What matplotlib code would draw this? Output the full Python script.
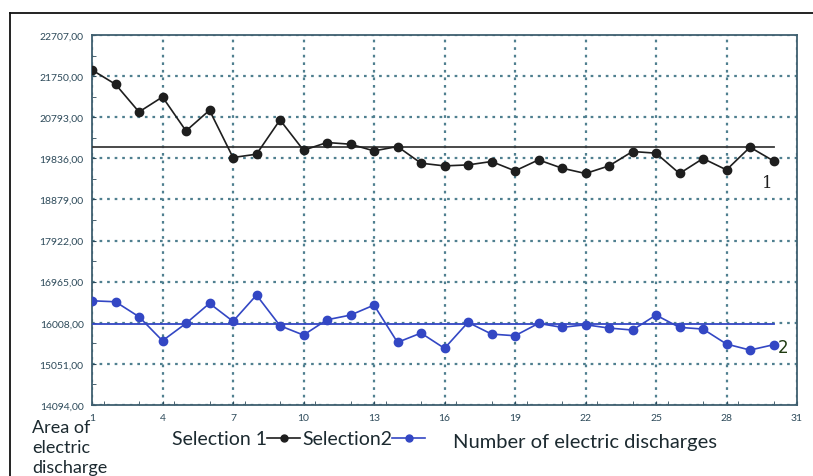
import matplotlib
matplotlib.use("Agg")
import matplotlib.pyplot as plt
from matplotlib.ticker import FixedLocator, MultipleLocator
from matplotlib.lines import Line2D

plt.rcParams['font.family'] = ['Lato', 'DejaVu Sans']

# ---- data ----
x_vals = list(range(1, 31))
selection1 = [21893, 21560, 20916, 21265, 20474, 20956, 19855, 19932, 20730, 20025,
              20204, 20165, 20009, 20111, 19723, 19660, 19683, 19762, 19544, 19800,
              19607, 19483, 19660, 19995, 19956, 19483, 19832, 19567, 20095, 19776]
selection2 = [16520, 16497, 16148, 15590, 15994, 16460, 16041, 16653, 15939, 15722,
              16078, 16187, 16420, 15552, 15769, 15413, 16018, 15745, 15706, 15994,
              15901, 15962, 15885, 15839, 16187, 15901, 15862, 15513, 15373, 15497]
mean1 = 20102
mean2 = 15980
y_ticks = [14094, 15051, 16008, 16965, 17922, 18879, 19836, 20793, 21750, 22707]
x_ticks = [1, 4, 7, 10, 13, 16, 19, 22, 25, 28, 31]

black = '#1e1e1e'
blue = '#3347c4'
grid_c = '#4f7f8f'
tick_c = '#2d4a5a'
text_c = '#1c2a30'

fig = plt.figure(figsize=(8.13, 4.77), dpi=100)
ax = fig.add_axes([92/813, 1-406/477, (797-92)/813, (406-36)/477])

ax.plot(x_vals, selection1, color=black, lw=1.2, marker='o', ms=6,
        label='Selection 1', zorder=4)
ax.plot(x_vals, selection2, color=blue, lw=1.2, marker='o', ms=6,
        label='Selection2', zorder=4)
ax.plot([x_vals[0], x_vals[-1]], [mean1, mean1], color='#3a3a3a', lw=1.3, zorder=3)
ax.plot([x_vals[0], x_vals[-1]], [mean2, mean2], color=blue, lw=1.3, zorder=3)

ax.set_xlim(1, 31)
ax.set_ylim(14094, 22707)
ax.xaxis.set_major_locator(FixedLocator(x_ticks))
ax.yaxis.set_major_locator(FixedLocator(y_ticks))
ax.xaxis.set_minor_locator(MultipleLocator(1.5))
ax.yaxis.set_minor_locator(FixedLocator([(y_ticks[i] + y_ticks[i+1]) / 2 for i in range(len(y_ticks)-1)]))
ax.set_yticklabels([f"{v:.2f}".replace('.', ',') for v in y_ticks])
ax.set_xticklabels([str(v) for v in x_ticks])
ax.tick_params(axis='both', which='both', direction='in', colors=tick_c,
               labelsize=7.5, labelcolor=tick_c)
ax.tick_params(which='major', length=3)
ax.tick_params(which='minor', length=3)
ax.tick_params(axis='y', pad=6)
ax.tick_params(axis='x', pad=6)
ax.grid(True, which='major', linestyle=(0, (1.2, 2.2)), color=grid_c, lw=1.6)
for sp in ax.spines.values():
    sp.set_color('#3f5f6f')
    sp.set_linewidth(1.3)

ax.text(29.75, 19281, '1', fontsize=12, color=black, family='DejaVu Serif',
        va='center', ha='center')
ax.text(30.2, 15440, '2', fontsize=12, color='#1f3a10', family='DejaVu Sans',
        va='center', ha='left')

# legend-style texts
leg = fig.legend(handles=ax.get_lines()[:2], labels=['Selection 1', 'Selection2'],
                 loc='center left', bbox_to_anchor=(172/813, 1-440/477),
                 ncol=2, frameon=False, markerfirst=False, fontsize=14,
                 handlelength=1.7, handletextpad=0.0, columnspacing=0.1,
                 borderpad=0, borderaxespad=0)
for t in leg.get_texts():
    t.set_color(text_c)
for h in leg.legend_handles:
    h.set_markersize(5)

fig.text(453/813, 1-443/477, 'Number of electric discharges', fontsize=14.5,
         color=text_c, va='center', ha='left')
fig.text(32/813, 1-420/477, 'Area of\nelectric\ndischarge', fontsize=13,
         color=text_c, va='top', ha='left', linespacing=1.3)

# outer frame lines
fig.add_artist(Line2D([10/813, 10/813], [0, 1-14/477], color='#111111', lw=1.3))
fig.add_artist(Line2D([10/813, 1], [1-14/477, 1-14/477], color='#111111', lw=1.3))

fig.savefig('out.png', dpi=100)
